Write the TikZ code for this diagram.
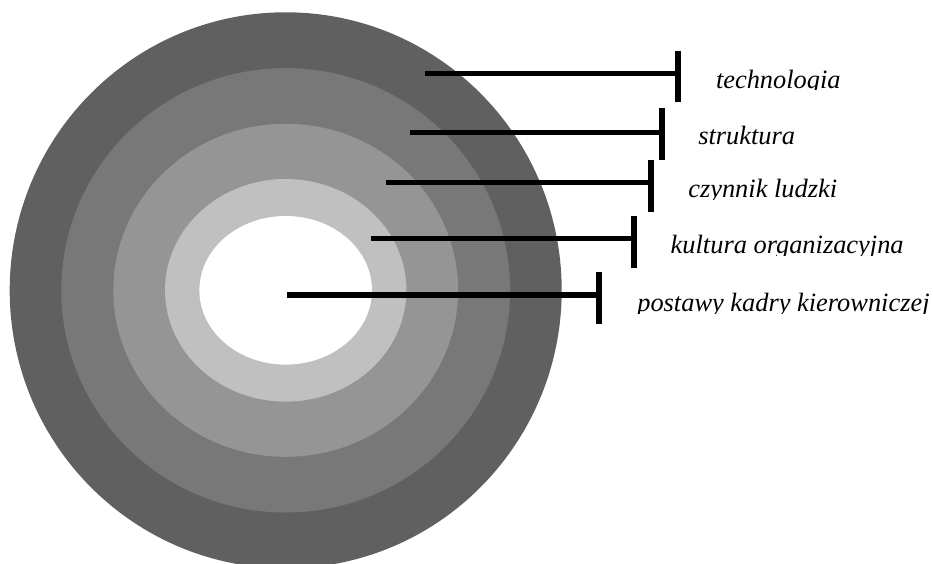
\documentclass[tikz,border=0pt]{standalone}
\usepackage{fontspec}
\setmainfont{Liberation Serif}
\definecolor{ringA}{HTML}{606060}
\definecolor{ringB}{HTML}{787878}
\definecolor{ringC}{HTML}{959595}
\definecolor{ringD}{HTML}{C0C0C0}
\begin{document}
\begin{tikzpicture}[x=1bp,y=-1bp,
  leader/.style={line width=5.5bp, line cap=butt},
  endbar/.style={line width=5.7bp, line cap=butt},
  lbl/.style={anchor=base west, inner sep=0pt, outer sep=0pt,
    font=\fontsize{26.4bp}{30bp}\selectfont\itshape}]
\useasboundingbox (0,0) rectangle (933,564);

% concentric layers
\coordinate (c) at (285.7,290.3);
\fill[ringA] (c) ellipse [x radius=276, y radius=278];
\fill[ringB] (c) ellipse [x radius=224.4, y radius=222.2];
\fill[ringC] (c) ellipse [x radius=172.4, y radius=166.5];
\fill[ringD] (c) ellipse [x radius=120.7, y radius=111.3];
\fill[white] (c) ellipse [x radius=86.3, y radius=74.3];

% leader lines: start, end, and bar ends
\coordinate (s1) at (425,73.5);   \coordinate (e1) at (678,73.5);
\coordinate (b1a) at (678,51);    \coordinate (b1b) at (678,102.3);
\coordinate (s2) at (409.5,132.5); \coordinate (e2) at (662,132.5);
\coordinate (b2a) at (662,108.3); \coordinate (b2b) at (662,160);
\coordinate (s3) at (386,182.5);  \coordinate (e3) at (651,182.5);
\coordinate (b3a) at (651,160);   \coordinate (b3b) at (651,211.7);
\coordinate (s4) at (370.7,238.5); \coordinate (e4) at (634,238.5);
\coordinate (b4a) at (634,216);   \coordinate (b4b) at (634,268.3);
\coordinate (s5) at (286.5,295);  \coordinate (e5) at (599,295);
\coordinate (b5a) at (599,272.3); \coordinate (b5b) at (599,323.5);

\foreach \i in {1,...,5}{
  \draw[leader] (s\i) -- (e\i);
  \draw[endbar] (b\i a) -- (b\i b);
}

% labels (lower parts cut off just under the baseline)
\begin{scope}
\clip (700,62) rectangle (933,90)
      (680,118) rectangle (933,146)
      (670,172) rectangle (933,199.5)
      (650,227) rectangle (933,255)
      (620,285) rectangle (933,313);
\node[lbl] (l1) at (716,88.5) {technologia};
\node[lbl] (l2) at (698.3,144.3) {struktura};
\node[lbl] (l3) at (688.3,198) {czynnik ludzki};
\node[lbl] (l4) at (670.7,253.3) {kultura organizacyjna};
\node[lbl] (l5) at (637.3,311.3) {postawy kadry kierowniczej};
\end{scope}
\end{tikzpicture}
\end{document}
